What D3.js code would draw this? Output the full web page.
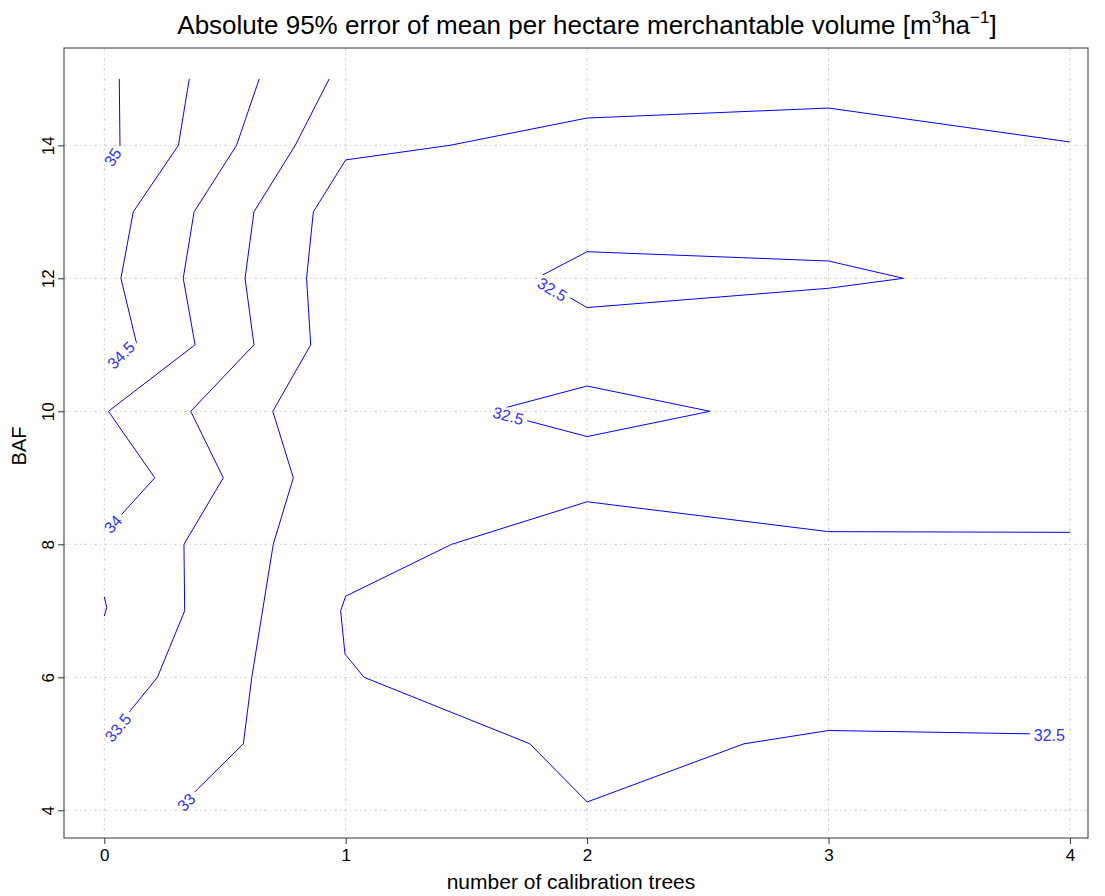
<!DOCTYPE html>
<html>
<head>
<meta charset="utf-8">
<script src="https://cdn.jsdelivr.net/npm/d3@7"></script>
<style>
  body { margin: 0; background: #fff; }
  text { font-family: "Liberation Sans", Arial, sans-serif; }
</style>
</head>
<body>
<div id="chart"></div>
<script>
const WIDTH = 1105;
const HEIGHT = 896;
const BOX = { left: 64, right: 1088, top: 48, bottom: 838 };

// tick values
const xTicks = [0, 1, 2, 3, 4];
const yTicks = [4, 6, 8, 10, 12, 14];

// contour polylines, [number of calibration trees, BAF]
const line35 = [[0.062, 15], [0.065, 14], [0.035, 13.82]];
const line34_5 = [[0.352, 15], [0.307, 14], [0.120, 13], [0.069, 12], [0.135, 11], [0.07, 10.84]];
const line34 = [[0.642, 15], [0.548, 14], [0.372, 13], [0.327, 12], [0.376, 11], [0.017, 10],
  [0.209, 9], [0.072, 8.45], [0.036, 8.30]];
const line33_5 = [[0.932, 15], [0.791, 14], [0.620, 13], [0.583, 12], [0.620, 11], [0.358, 10],
  [0.493, 9], [0.330, 8], [0.333, 7], [0.220, 6], [0.106, 5.49], [0.057, 5.24]];
const line33 = [[4, 14.05], [3, 14.56], [2, 14.41], [1.432, 14], [1, 13.78], [0.866, 13],
  [0.838, 12], [0.855, 11], [0.698, 10], [0.783, 9], [0.700, 8], [0.611, 6], [0.576, 5],
  [0.373, 4.27], [0.34, 4.12]];
const line32_5 = [[4, 8.18], [3.5, 8.185], [3, 8.19], [2, 8.64], [1.439, 8], [1, 7.22],
  [0.979, 7], [0.997, 6.35], [1.076, 6], [1.763, 5], [2, 4.125], [2.65, 5], [3, 5.2],
  [3.835, 5.15], [3.915, 5.12]];
const loop32_5a = [[1.79, 12], [2, 12.40], [3, 12.26], [3.31, 12], [3, 11.85], [2, 11.56], [1.79, 12]];
const loop32_5b = [[1.605, 10], [2, 10.38], [2.509, 10], [2, 9.62], [1.605, 10]];
const lineSmall = [[0, 7.21], [0.01, 7.05], [0, 6.92]];

const contourLines = [line35, line34_5, line34, line33_5, line33, line32_5, loop32_5a, loop32_5b, lineSmall];

// contour labels: text, position, rotation
const labelText = ["35", "34.5", "34", "33.5", "33", "32.5", "32.5", "32.5"];
const labelPos = [[0.035, 13.82], [0.07, 10.84], [0.036, 8.30], [0.057, 5.24], [0.34, 4.12],
  [1.855, 11.83], [1.673, 9.93], [3.915, 5.12]];
const labelAngle = [-58, -45, -47, -50, -45, 31, 15, 0];

const svg = d3.select("#chart").append("svg")
  .attr("width", WIDTH)
  .attr("height", HEIGHT);

svg.append("rect").attr("width", WIDTH).attr("height", HEIGHT).attr("fill", "#fff");

const x = d3.scaleLinear().domain([0, 4]).range([104.3, 1069.9]);
const y = d3.scaleLinear().domain([4, 14]).range([810.3, 145.3]);

// grid
svg.append("g").selectAll("line")
  .data(xTicks).enter().append("line")
  .attr("x1", d => x(d)).attr("x2", d => x(d))
  .attr("y1", BOX.top).attr("y2", BOX.bottom)
  .attr("stroke", "#cfcfcf").attr("stroke-dasharray", "3,3,1,3");
svg.append("g").selectAll("line")
  .data(yTicks).enter().append("line")
  .attr("y1", d => y(d)).attr("y2", d => y(d))
  .attr("x1", BOX.left).attr("x2", BOX.right)
  .attr("stroke", "#cfcfcf").attr("stroke-dasharray", "3,3,1,3");

// labels first so their size can cut the lines
const labels = svg.append("g");
labels.selectAll("text")
  .data(labelText).enter().append("text")
  .attr("transform", (d, i) => "translate(" + x(labelPos[i][0]) + "," + y(labelPos[i][1]) + ") rotate(" + labelAngle[i] + ")")
  .attr("text-anchor", "middle")
  .attr("dominant-baseline", "central")
  .style("font-size", "16px")
  .attr("fill", "#3333ff")
  .text(d => d);

const mask = svg.append("defs").append("mask").attr("id", "labelGap")
  .attr("maskUnits", "userSpaceOnUse")
  .attr("x", 0).attr("y", 0).attr("width", WIDTH).attr("height", HEIGHT);
mask.append("rect").attr("width", WIDTH).attr("height", HEIGHT).attr("fill", "#fff");
labels.selectAll("text").each(function(d, i) {
  const w = this.getComputedTextLength() + 8;
  mask.append("rect")
    .attr("x", -w / 2).attr("y", -8).attr("width", w).attr("height", 16)
    .attr("transform", "translate(" + x(labelPos[i][0]) + "," + y(labelPos[i][1]) + ") rotate(" + labelAngle[i] + ")")
    .attr("fill", "#000");
});

const line = d3.line().x(d => x(d[0])).y(d => y(d[1]));
svg.append("g").attr("mask", "url(#labelGap)")
  .selectAll("path")
  .data(contourLines).enter().append("path")
  .attr("d", line)
  .attr("fill", "none")
  .attr("stroke", "#0000ff")
  .attr("stroke-width", 1);

// box
svg.append("rect")
  .attr("x", BOX.left).attr("y", BOX.top)
  .attr("width", BOX.right - BOX.left).attr("height", BOX.bottom - BOX.top)
  .attr("fill", "none").attr("stroke", "#333");

// axes
const xAxis = svg.append("g")
  .attr("transform", "translate(0," + BOX.bottom + ")")
  .call(d3.axisBottom(x).tickValues(xTicks).tickSize(6).tickPadding(5).tickFormat(d3.format("d")));
xAxis.select(".domain").remove();
xAxis.selectAll("line").attr("stroke", "#333");
xAxis.selectAll("text").style("font-size", "17px").attr("fill", "#000").attr("font-family", null);

const yAxis = svg.append("g")
  .attr("transform", "translate(" + BOX.left + ",0)")
  .call(d3.axisLeft(y).tickValues(yTicks).tickSize(6).tickFormat(d3.format("d")));
yAxis.select(".domain").remove();
yAxis.selectAll("line").attr("stroke", "#333");
yAxis.selectAll("text")
  .attr("transform", "rotate(-90)")
  .attr("x", 0).attr("y", -10).attr("dy", null)
  .attr("text-anchor", "middle")
  .style("font-size", "17px").attr("fill", "#000").attr("font-family", null);

// titles
svg.append("text")
  .attr("x", 587).attr("y", 34)
  .attr("text-anchor", "middle")
  .style("font-size", "26px")
  .call(t => {
    t.append("tspan").text("Absolute 95% error of mean per hectare merchantable volume [m");
    t.append("tspan").attr("dy", -11).style("font-size", "17px").text("3");
    t.append("tspan").attr("dy", 11).text("ha");
    t.append("tspan").attr("dy", -11).style("font-size", "17px").text("\u22121");
    t.append("tspan").attr("dy", 11).text("]");
  });

svg.append("text")
  .attr("x", 571).attr("y", 889)
  .attr("text-anchor", "middle")
  .style("font-size", "21px")
  .text("number of calibration trees");

svg.append("text")
  .attr("transform", "translate(26,446) rotate(-90)")
  .attr("text-anchor", "middle")
  .style("font-size", "20px")
  .text("BAF");
</script>
</body>
</html>
